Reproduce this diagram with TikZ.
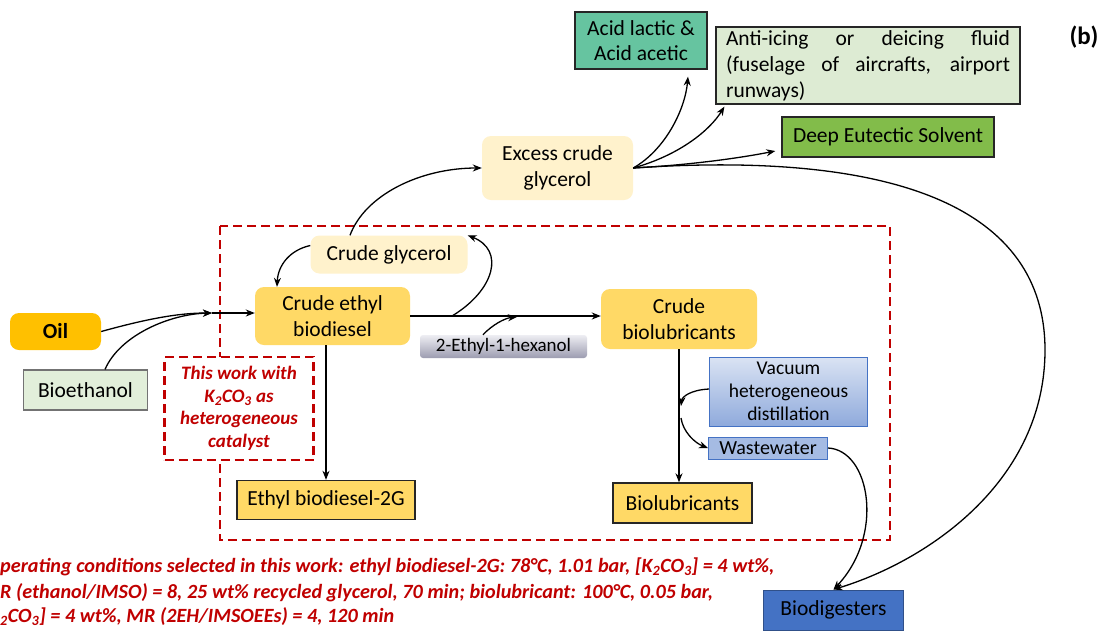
\documentclass[tikz,border=0pt]{standalone}
\usepackage{fontspec}
\setmainfont{Carlito}
\usetikzlibrary{arrows.meta}
\definecolor{oilc}{HTML}{FFC000}
\definecolor{yel}{HTML}{FFD966}
\definecolor{cream}{HTML}{FFF2CC}
\definecolor{bioeth}{HTML}{E2EFDA}
\definecolor{acidc}{HTML}{66C4A0}
\definecolor{antic}{HTML}{DDEBD3}
\definecolor{desc}{HTML}{82BC4A}
\definecolor{blued}{HTML}{4472C4}
\definecolor{bluel}{HTML}{8FAADC}
\definecolor{bluet}{HTML}{DAE3F3}
\definecolor{redd}{HTML}{C00000}
\definecolor{ehtop}{HTML}{EEEEF3}
\definecolor{ehbot}{HTML}{9C9CB0}
\newcommand\bxf{\fontsize{21.5}{25.5}\selectfont}
\newcommand\smf{\fontsize{20.2}{24}\selectfont}
\tikzset{
  box/.style={font=\bxf, align=center, inner sep=0pt, text=black},
  rbox/.style={box, rounded corners=9pt},
  sbox/.style={box, draw=black!85, line width=1.4pt},
  arr/.style={-{Stealth[length=9pt,width=7pt]}, line width=1.3pt, black},
  reddash/.style={draw=redd, line width=2.4pt, dash pattern=on 9pt off 5pt},
  note/.style={font=\smf\bfseries\itshape, text=redd, inner sep=0pt}
}
\begin{document}
\begin{tikzpicture}[x=1pt,y=-1pt]
\useasboundingbox[fill=white] (0,0) rectangle (1104,630);

% big dashed frame
\draw[reddash] (220,226) rectangle (890,540);

% nodes
\node[rbox, fill=oilc, minimum width=91pt, minimum height=37pt, font=\bxf\bfseries] (oil) at (55.5,331.5) {Oil};
\node[box, fill=bioeth, draw=black!55, line width=1.2pt, minimum width=124pt, minimum height=40pt] (beth) at (85.5,390) {Bioethanol};
\node[rbox, fill=yel, minimum width=155pt, minimum height=58pt] (ced) at (332.5,316) {Crude ethyl\\biodiesel};
\node[rbox, fill=cream, minimum width=157pt, minimum height=38pt] (cg) at (389,254.5) {Crude glycerol};
\node[rbox, fill=cream, minimum width=151pt, minimum height=64pt] (ecg) at (557.5,168) {Excess crude\\glycerol};
\node[box, rounded corners=3pt, top color=ehtop, bottom color=ehbot, minimum width=167pt, minimum height=23pt, font=\fontsize{19}{22}\selectfont] (eh) at (503.5,346.5) {2-Ethyl-1-hexanol};
\node[rbox, fill=yel, minimum width=156pt, minimum height=60pt] (cb) at (679,319) {Crude\\biolubricants};
\node[box, top color=bluet, bottom color=bluel, draw=blued, line width=1pt, minimum width=158pt, minimum height=69pt, font=\fontsize{19.5}{23}\selectfont] (vac) at (788.5,391.5) {Vacuum\\heterogeneous\\distillation};
\node[box, fill=bluel!80!white, draw=blued, line width=1pt, minimum width=119pt, minimum height=22pt, font=\fontsize{20}{22}\selectfont] (ww) at (768,448) {Wastewater};
\node[sbox, fill=yel, minimum width=139pt, minimum height=40pt] (bl) at (682.5,503) {Biolubricants};
\node[sbox, fill=yel, minimum width=178pt, minimum height=39pt] (eb) at (326,500) {Ethyl biodiesel-2G};
\node[reddash, fill=white, minimum width=149pt, minimum height=103pt, align=center, inner sep=0pt,
      font=\fontsize{19}{22.5}\selectfont\bfseries\itshape, text=redd] (tw) at (239,408.5)
      {This work with\\K\textsubscript{2}CO\textsubscript{3} as\\heterogeneous\\catalyst};
\node[sbox, fill=acidc, minimum width=132pt, minimum height=57pt] (acid) at (641,40.5) {Acid lactic \&\\Acid acetic};
\node[sbox, fill=antic, line width=1.2pt, minimum width=304pt, minimum height=77pt, text width=284pt, align=justify, font=\fontsize{21.5}{26}\selectfont] (anti) at (868,65.5)
      {Anti-icing or deicing fluid\linebreak (fuselage of aircrafts, airport\linebreak runways)};
\node[sbox, fill=desc, minimum width=212pt, minimum height=40pt] (des) at (888,137) {Deep Eutectic Solvent};
\node[box, fill=blued, draw=blued!70!black, line width=1pt, minimum width=140pt, minimum height=40pt] (bio) at (833.5,610) {Biodigesters};
\node[font=\fontsize{25}{28}\selectfont\bfseries, inner sep=0pt] (lab) at (1084,37) {(b)};

% bottom notes
\node[note, anchor=west] (n1) at (0,567) {perating conditions selected in this work: ethyl biodiesel-2G: 78°C, 1.01 bar, [K\textsubscript{2}CO\textsubscript{3}] = 4 wt\%,};
\node[note, anchor=west] (n2) at (0,593) {R (ethanol/IMSO) = 8, 25 wt\% recycled glycerol, 70 min; biolubricant: 100°C, 0.05 bar,};
\node[note, anchor=west] (n3) at (0,617) {\textsubscript{2}CO\textsubscript{3}] = 4 wt\%, MR (2EH/IMSOEEs) = 4, 120 min};

% coordinates
\coordinate (m) at (212,313);
\coordinate (split) at (452,316);
\coordinate (ehs) at (517,317);

% connectors
\draw[arr] (oil.east) .. controls (150,318) and (180,313) .. (m);
\draw[arr] (beth.north -| 105,0) .. controls (120,335) and (170,314) .. (m);
\draw[arr] (m) -- (m -| ced.west);
\draw[arr] (ced.east |- split) -- (split -| cb.west);
\draw[arr] (split) .. controls (495,290) and (505,250) .. (cg.north east);
\draw[arr] (eh.north -| 483,0) .. controls (492,325) and (505,318) .. (ehs);
\draw[arr] (cg.west) ++(0,-9) .. controls (290,250) and (278,265) .. (ced.north west -| 277,0);
\draw[arr] (cg.north -| 350,0) .. controls (365,195) and (420,168) .. (ecg.west);
\draw[arr] (eb.north |- ced.south) -- (eb.north);
\draw[arr] (cb.south) -- (cb.south |- bl.north);
\draw[arr] (vac.west |- 0,389) .. controls (690,390) and (682,397) .. (681,406);
\draw[arr] (681,418) .. controls (683,432) and (695,443) .. (ww.west);
\draw[arr] (ww.east) .. controls (870,450) and (885,535) .. (bio.north);
\draw[arr] (ecg.east) .. controls (665,150) and (685,110) .. ([yshift=-7pt]acid.south -| 688,0);
\draw[arr] (ecg.east) .. controls (680,155) and (710,130) .. ([shift={(9pt,-2pt)}]anti.south west);
\draw[arr] (ecg.east) .. controls (690,165) and (740,158) .. ([shift={(-6pt,-14pt)}]des.west);
\draw[arr] (ecg.east) .. controls (900,150) and (1045,210) .. (1045,350) .. controls (1045,480) and (930,560) .. (bio.north);
\end{tikzpicture}
\end{document}
